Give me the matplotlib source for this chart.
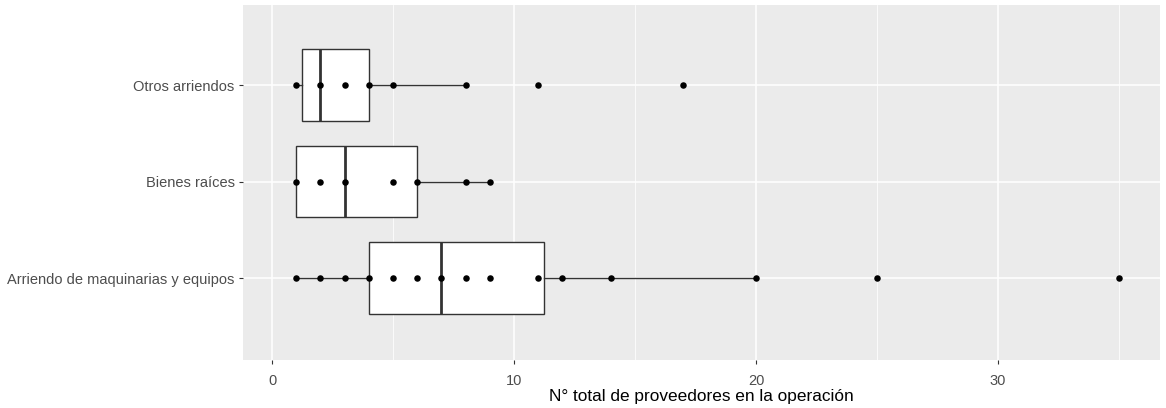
import matplotlib
matplotlib.use("Agg")
import matplotlib.pyplot as plt

plt.rcParams['font.family'] = ['Liberation Sans', 'DejaVu Sans']

categories = ["Arriendo de maquinarias y equipos", "Bienes raíces", "Otros arriendos"]
points = [
    [1, 2, 3, 4, 5, 6, 7, 8, 9, 11, 12, 14, 20, 25, 35],
    [1, 2, 3, 5, 6, 8, 9],
    [1, 2, 3, 4, 5, 8, 11, 17],
]
q1 = [4, 1, 1.25]
median = [7, 3, 2]
q3 = [11.25, 6, 4]
whisker_low = [1, 1, 1]
whisker_high = [20, 9, 8]
xticks = [0, 10, 20, 30]
xlabel = "N° total de proveedores en la operación"

W, H = 1166, 408
fig = plt.figure(figsize=(W / 100, H / 100), dpi=100)
ax = fig.add_axes([243 / W, 1 - 360 / H, (1160 - 243) / W, (360 - 5) / H])
ax.set_facecolor("#EBEBEB")

stats = []
for i, c in enumerate(categories):
    stats.append(dict(label=c, q1=q1[i], med=median[i], q3=q3[i],
                      whislo=whisker_low[i], whishi=whisker_high[i], fliers=[]))

positions = list(range(1, len(categories) + 1))
ax.bxp(stats, positions=positions, orientation='horizontal', widths=0.74,
       showcaps=False, showfliers=False, patch_artist=True,
       boxprops=dict(facecolor="white", edgecolor="#333333", linewidth=1.0),
       medianprops=dict(color="#333333", linewidth=2.0),
       whiskerprops=dict(color="#333333", linewidth=1.0), zorder=3)

for i, pts in enumerate(points):
    ax.scatter(pts, [positions[i]] * len(pts), s=22, color="black", zorder=4, linewidths=0)

ax.set_xlim(-1.2, 36.7)
ax.set_ylim(0.15, 3.83)
ax.set_xticks(xticks)
ax.set_xticks([5, 15, 25, 35], minor=True)
ax.set_yticks(positions)
ax.set_yticklabels(categories)
ax.grid(True, which="major", color="white", linewidth=1.1, zorder=0)
ax.grid(True, which="minor", axis="x", color="white", linewidth=0.55, zorder=0)
ax.set_axisbelow(True)
for s in ax.spines.values():
    s.set_visible(False)
ax.tick_params(axis="both", which="major", length=3, width=0.8, color="#333333",
               labelcolor="#4D4D4D", labelsize=10.5)
ax.tick_params(axis="y", which="major", pad=3)
ax.tick_params(axis="x", which="major", pad=7)
ax.tick_params(axis="both", which="minor", length=0)
ax.set_xlabel(xlabel, fontsize=12.4, color="black", labelpad=1)

fig.savefig("out.png", dpi=100)
